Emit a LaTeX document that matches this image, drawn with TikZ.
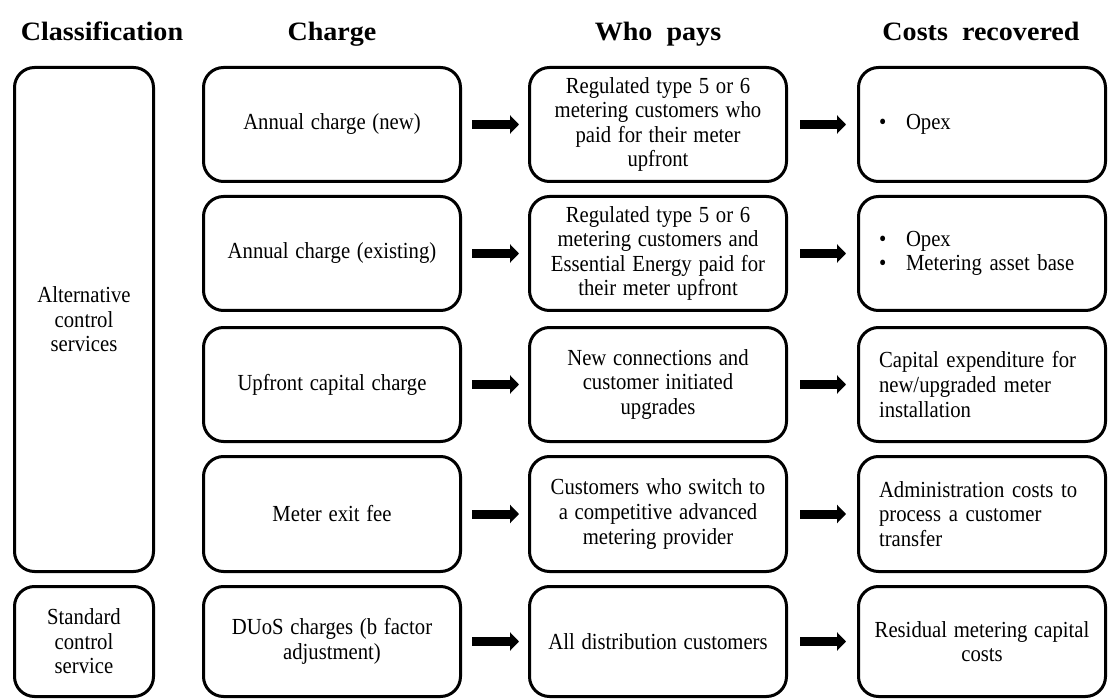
\documentclass[tikz,border=0pt]{standalone}
\usepackage{fontspec}
\setmainfont{Liberation Serif}[FakeStretch=1.06, WordSpace=2.0]
\newfontfamily\bodyfont{Liberation Serif}[FakeStretch=0.9, WordSpace=1.3]
\usetikzlibrary{arrows.meta}
\tikzset{
  box/.style={draw=black, line width=3pt, rounded corners=20pt, fill=white,
    font=\bodyfont\fontsize{23}{24.6}\selectfont, align=center, inner sep=0pt},
  head/.style={font=\fontsize{26.5}{30}\selectfont\bfseries, anchor=base, inner sep=0pt},
  lbox/.style={box, text width=206pt, align=left},
  arr/.style={line width=9pt, -{Triangle[length=9pt,width=18pt]}},
}
\begin{document}
\begin{tikzpicture}[x=1pt,y=-1pt]
\useasboundingbox (0,0) rectangle (1110,700);
% headers
\node[head] (h1) at (102,41) {Classification};
\node[head] (h2) at (332,41) {Charge};
\node[head] (h3) at (658,41) {Who pays};
\node[head] (h4) at (981,41) {Costs recovered};
% classification
\node[box, minimum width=139pt, minimum height=504pt] (ka) at (84,319.5) {Alternative\\control\\services};
\node[box, minimum width=139pt, minimum height=110pt] (ks) at (84,641.5) {Standard\\control\\service};
% charge
\node[box, minimum width=257pt, minimum height=114pt] (c1) at (332,124.5) {Annual charge (new)};
\node[box, minimum width=257pt, minimum height=114pt] (c2) at (332,253.5) {Annual charge (existing)};
\node[box, minimum width=257pt, minimum height=114pt] (c3) at (332,384.5) {Upfront capital charge};
\node[box, minimum width=257pt, minimum height=115pt] (c4) at (332,514) {Meter exit fee};
\node[box, minimum width=257pt, minimum height=110pt] (c5) at (332,641.5) {DUoS charges (b factor\\adjustment)};
% who pays
\node[box, minimum width=257pt, minimum height=114pt] (w1) at (658,124.5) {Regulated type 5 or 6\\metering customers who\\paid for their meter\\upfront};
\node[box, minimum width=257pt, minimum height=114pt] (w2) at (658,253.5) {Regulated type 5 or 6\\metering customers and\\Essential Energy paid for\\their meter upfront};
\node[box, minimum width=257pt, minimum height=114pt] (w3) at (658,384.5) {New connections and\\customer initiated\\upgrades};
\node[box, minimum width=257pt, minimum height=115pt] (w4) at (658,514) {Customers who switch to\\a competitive advanced\\metering provider};
\node[box, minimum width=257pt, minimum height=110pt] (w5) at (658,641.5) {All distribution customers};
% costs recovered
\node[lbox, minimum width=247pt, minimum height=114pt] (r1) at (982,124.5) {\makebox[27pt][l]{\textbullet}Opex};
\node[lbox, minimum width=247pt, minimum height=114pt] (r2) at (982,253.5) {\makebox[27pt][l]{\textbullet}Opex\\\makebox[27pt][l]{\textbullet}Metering asset base};
\node[lbox, minimum width=247pt, minimum height=114pt] (r3) at (982,384.5) {Capital expenditure for\\new/upgraded meter\\installation};
\node[lbox, minimum width=247pt, minimum height=115pt] (r4) at (982,514) {Administration costs to\\process a customer\\transfer};
\node[box, minimum width=247pt, minimum height=110pt] (r5) at (982,641.5) {Residual metering capital\\costs};
% arrows
\foreach \i in {1,...,5}{
  \draw[arr] ([xshift=10pt]c\i.east) -- ([xshift=-9pt]w\i.west);
  \draw[arr] ([xshift=12pt]w\i.east) -- ([xshift=-11pt]r\i.west);
}
\end{tikzpicture}
\end{document}
